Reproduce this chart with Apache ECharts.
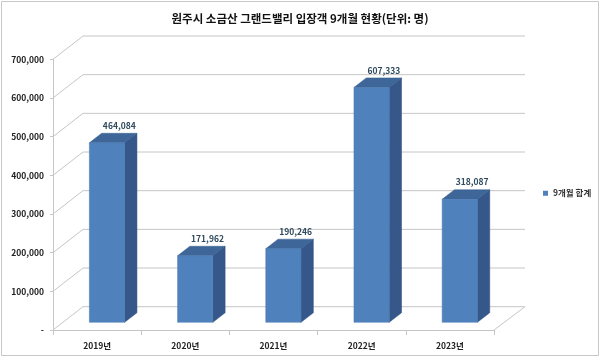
<!DOCTYPE html>
<html>
<head>
<meta charset="utf-8">
<script src="https://cdn.jsdelivr.net/npm/echarts@6/dist/echarts.min.js"></script>
<style>
html,body{margin:0;padding:0;background:#fff;}
#c{width:600px;height:357px;}
</style>
</head>
<body>
<div id="c"></div>
<script>
const categories = ['2019년', '2020년', '2021년', '2022년', '2023년'];
const visitors = [464084, 171962, 190246, 607333, 318087];
const yTicks = [0, 100000, 200000, 300000, 400000, 500000, 600000, 700000];
const seriesName = '9개월 합계';
const titleText = '원주시 소금산 그랜드밸리 입장객 9개월 현황(단위: 명)';

const FONT = '"Noto Sans CJK KR", "Noto Sans", sans-serif';
// 3D projection offsets (pixels)
const DX = 30, DY = -23.3;         // full depth of floor / side wall
const FRONT = 0.33, BACK = 0.74;   // bar depth position
const HALF = 0.2;                  // bar half-width as fraction of band
const GRID_COLOR = '#C6C6C6';

const chart = echarts.init(document.getElementById('c'), null, {renderer: 'canvas'});

const option = {
  backgroundColor: '#fff',
  animation: false,
  title: {
    text: titleText,
    left: 'center',
    top: 8,
    textStyle: {fontFamily: FONT, fontSize: 11.5, fontWeight: 'bold', color: '#111'}
  },
  legend: {
    data: [seriesName],
    left: 538,
    top: 184,
    icon: 'rect',
    itemWidth: 5,
    itemHeight: 5,
    itemGap: 3,
    textStyle: {fontFamily: FONT, fontSize: 8.5, fontWeight: 'bold', color: '#333'}
  },
  grid: {left: 53, right: 106, top: 59.3, bottom: 27, outerBoundsMode: 'none'},
  xAxis: {
    type: 'category',
    data: categories,
    axisLine: {show: true, lineStyle: {color: GRID_COLOR, width: 1}},
    axisTick: {show: true, length: 5, lineStyle: {color: GRID_COLOR}},
    axisLabel: {margin: 12, fontFamily: FONT, fontSize: 8.5, fontWeight: 'bold', color: '#222'},
    splitLine: {show: false}
  },
  yAxis: {
    type: 'value',
    min: 0,
    max: 700000,
    interval: 100000,
    axisLine: {show: true, lineStyle: {color: GRID_COLOR, width: 1}},
    axisTick: {show: true, length: 3, lineStyle: {color: GRID_COLOR}},
    axisLabel: {
      margin: 9,
      fontFamily: FONT, fontSize: 8.5, fontWeight: 'bold', color: '#222',
      formatter: v => v === 0 ? '-' : v.toLocaleString('en-US')
    },
    splitLine: {show: false}
  },
  series: [
    {
      type: 'custom',
      name: 'walls',
      silent: true,
      z: 1,
      data: yTicks.map(v => [0, v]),
      encode: {x: 0, y: 1},
      renderItem: function (params, api) {
        const v = api.value(1);
        const p = api.coord([0, v]);
        const band = api.size([1, 0])[0];
        const xl = p[0] - band / 2;
        const xr = xl + band * categories.length;
        const y = p[1];
        const children = [
          {type: 'line', shape: {x1: xl, y1: y, x2: xl + DX, y2: y + DY}, style: {stroke: GRID_COLOR, lineWidth: 1}},
          {type: 'line', shape: {x1: xl + DX, y1: y + DY, x2: xr + DX + 1, y2: y + DY}, style: {stroke: GRID_COLOR, lineWidth: 1}}
        ];
        if (v === 0) {
          children.push({type: 'line', shape: {x1: xr, y1: y, x2: xr + DX + 1, y2: y + DY}, style: {stroke: GRID_COLOR, lineWidth: 1}});
        }
        return {type: 'group', children: children};
      }
    },
    {
      type: 'custom',
      name: seriesName,
      z: 3,
      itemStyle: {color: '#4F81BD'},
      data: visitors.map((v, i) => [i, v]),
      encode: {x: 0, y: 1},
      renderItem: function (params, api) {
        const i = api.value(0);
        const v = api.value(1);
        const top = api.coord([i, v]);
        const base = api.coord([i, 0]);
        const band = api.size([1, 0])[0];
        const cx = top[0];
        const xl = cx - band * HALF, xr = cx + band * HALF;
        const fx = DX * FRONT, fy = DY * FRONT;
        const bx = DX * BACK, by = DY * BACK;
        const y0 = base[1], yv = top[1];
        const front = [[xl + fx, y0 + fy], [xr + fx, y0 + fy], [xr + fx, yv + fy], [xl + fx, yv + fy]];
        const side = [[xr + fx, y0 + fy], [xr + bx, y0 + by], [xr + bx, yv + by], [xr + fx, yv + fy]];
        const topFace = [[xl + fx, yv + fy], [xr + fx, yv + fy], [xr + bx, yv + by], [xl + bx, yv + by]];
        return {
          type: 'group',
          children: [
            {type: 'polygon', shape: {points: side}, style: {fill: '#35578A', stroke: '#2F4F7C', lineWidth: 0.5}},
            {type: 'polygon', shape: {points: topFace}, style: {fill: '#3E6698', stroke: '#37608F', lineWidth: 0.5}},
            {type: 'polygon', shape: {points: front}, style: {fill: '#4F81BD', stroke: '#4A7AB3', lineWidth: 0.5}},
            {type: 'text', style: {
              text: v.toLocaleString('en-US'),
              x: cx + bx, y: yv + by - 7.5,
              align: 'center', verticalAlign: 'middle',
              font: 'bold 8.5px ' + FONT,
              fill: '#2E4A5C'
            }}
          ]
        };
      }
    }
  ],
  graphic: [
    {type: 'rect', shape: {x: 1.5, y: 1.5, width: 597, height: 354}, style: {fill: null, stroke: '#C8C8C8', lineWidth: 1}, silent: true, z: 100}
  ]
};

chart.setOption(option);
</script>
</body>
</html>
